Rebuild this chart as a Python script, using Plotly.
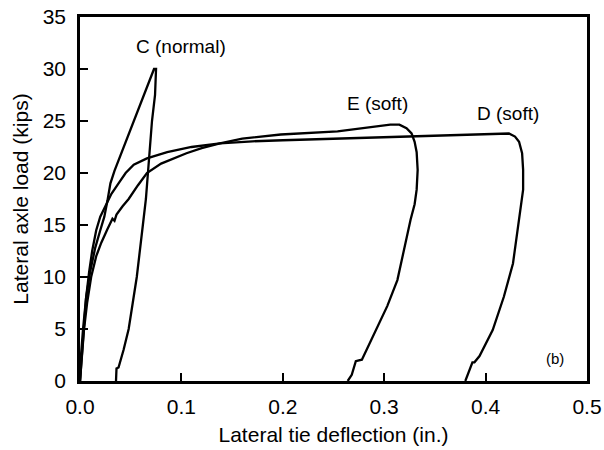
import plotly.graph_objects as go

# Load-deflection records for three lateral ties (deflection in inches, load in kips)
c_x = [0.0, 0.001, 0.003, 0.006, 0.010, 0.015, 0.020, 0.024, 0.027, 0.030, 0.034, 0.042,
       0.053, 0.061, 0.067, 0.071, 0.073, 0.075,
       0.074, 0.071, 0.069, 0.067, 0.065, 0.062, 0.059, 0.056, 0.052, 0.048, 0.043,
       0.038, 0.036, 0.0355]
c_y = [0.0, 2.5, 5.0, 8.0, 10.5, 12.8, 14.5, 15.8, 17.3, 19.0, 20.2, 22.2,
       25.0, 27.0, 28.6, 29.6, 30.0, 30.0,
       27.5, 25.0, 22.5, 20.0, 17.5, 15.0, 12.5, 10.0, 7.5, 5.0, 3.0,
       1.3, 1.2, 0.0]

e_x = [0.0, 0.002, 0.004, 0.007, 0.011, 0.016, 0.021, 0.027, 0.032, 0.034, 0.036, 0.042,
       0.048, 0.057, 0.066, 0.080, 0.094, 0.105, 0.120, 0.138, 0.160, 0.198, 0.254,
       0.290, 0.306, 0.315, 0.322, 0.327, 0.330, 0.332, 0.333, 0.332, 0.330, 0.326,
       0.319, 0.313, 0.303, 0.290, 0.278, 0.274, 0.272, 0.268, 0.264]
e_y = [0.0, 3.0, 5.0, 7.5, 10.0, 12.0, 13.3, 14.6, 15.6, 15.4, 16.0, 16.8,
       17.5, 18.8, 20.0, 20.9, 21.5, 21.9, 22.4, 22.85, 23.3, 23.7, 24.0,
       24.4, 24.65, 24.65, 24.3, 23.8, 23.0, 22.0, 20.3, 18.4, 17.0, 15.5,
       12.3, 9.7, 7.2, 4.6, 2.05, 1.95, 1.9, 0.6, 0.0]

d_x = [0.0, 0.002, 0.004, 0.006, 0.009, 0.012, 0.016, 0.020, 0.025, 0.031, 0.038, 0.045,
       0.053, 0.066, 0.086, 0.110, 0.138, 0.170, 0.200, 0.254, 0.300, 0.350, 0.400,
       0.423, 0.429, 0.433, 0.436, 0.437, 0.437, 0.435, 0.433, 0.427, 0.418, 0.407,
       0.394, 0.389, 0.387, 0.384, 0.380]
d_y = [0.0, 3.0, 5.5, 8.0, 10.5, 12.5, 14.5, 15.8, 16.8, 18.0, 19.0, 20.0,
       20.8, 21.4, 22.0, 22.5, 22.85, 23.05, 23.15, 23.3, 23.4, 23.55, 23.7,
       23.8, 23.5, 23.0, 21.9, 20.3, 18.4, 17.0, 15.5, 11.3, 8.1, 4.9,
       2.4, 1.8, 1.8, 1.0, 0.0]

series = [("C (normal)", c_x, c_y), ("E (soft)", e_x, e_y), ("D (soft)", d_x, d_y)]

# Curve labels and their anchor positions (data units)
label_text = ["C (normal)", "E (soft)", "D (soft)", "(b)"]
label_x = [0.100, 0.293, 0.422, 0.468]
label_y = [32.2, 26.7, 25.7, 2.2]
label_size = [19, 19, 19, 15]

x_ticks = [0.0, 0.1, 0.2, 0.3, 0.4, 0.5]
x_tick_text = ["0.0", "0.1", "0.2", "0.3", "0.4", "0.5"]
y_ticks = [0, 5, 10, 15, 20, 25, 30, 35]

FONT = "Liberation Sans, Arial, Helvetica, sans-serif"

fig = go.Figure()
for name, xs, ys in series:
    fig.add_trace(go.Scatter(x=xs, y=ys, mode="lines", name=name,
                             line=dict(color="black", width=2.3)))

for t, x, y, s in zip(label_text, label_x, label_y, label_size):
    fig.add_annotation(x=x, y=y, text=t, showarrow=False,
                       font=dict(size=s, color="black", family=FONT))

axis_common = dict(showgrid=False, zeroline=False, showline=True, linecolor="black",
                   linewidth=2.5, mirror=True, ticks="inside", ticklen=8, tickwidth=2,
                   tickcolor="black", automargin=False,
                   tickfont=dict(size=21, color="black", family=FONT),
                   title_font=dict(size=21, color="black", family=FONT))

fig.update_xaxes(range=[0, 0.5], tickvals=x_ticks, ticktext=x_tick_text,
                 ticklabelstandoff=5,
                 title_text="Lateral tie deflection (in.)", title_standoff=11, **axis_common)
fig.update_yaxes(range=[0, 35], tickvals=y_ticks, ticklabelstandoff=7,
                 title_text="Lateral axle load (kips)", title_standoff=9, **axis_common)

fig.update_layout(width=604, height=450, showlegend=False,
                  paper_bgcolor="white", plot_bgcolor="white",
                  margin=dict(l=80, r=17, t=17, b=69))

fig.write_html("out.html")
